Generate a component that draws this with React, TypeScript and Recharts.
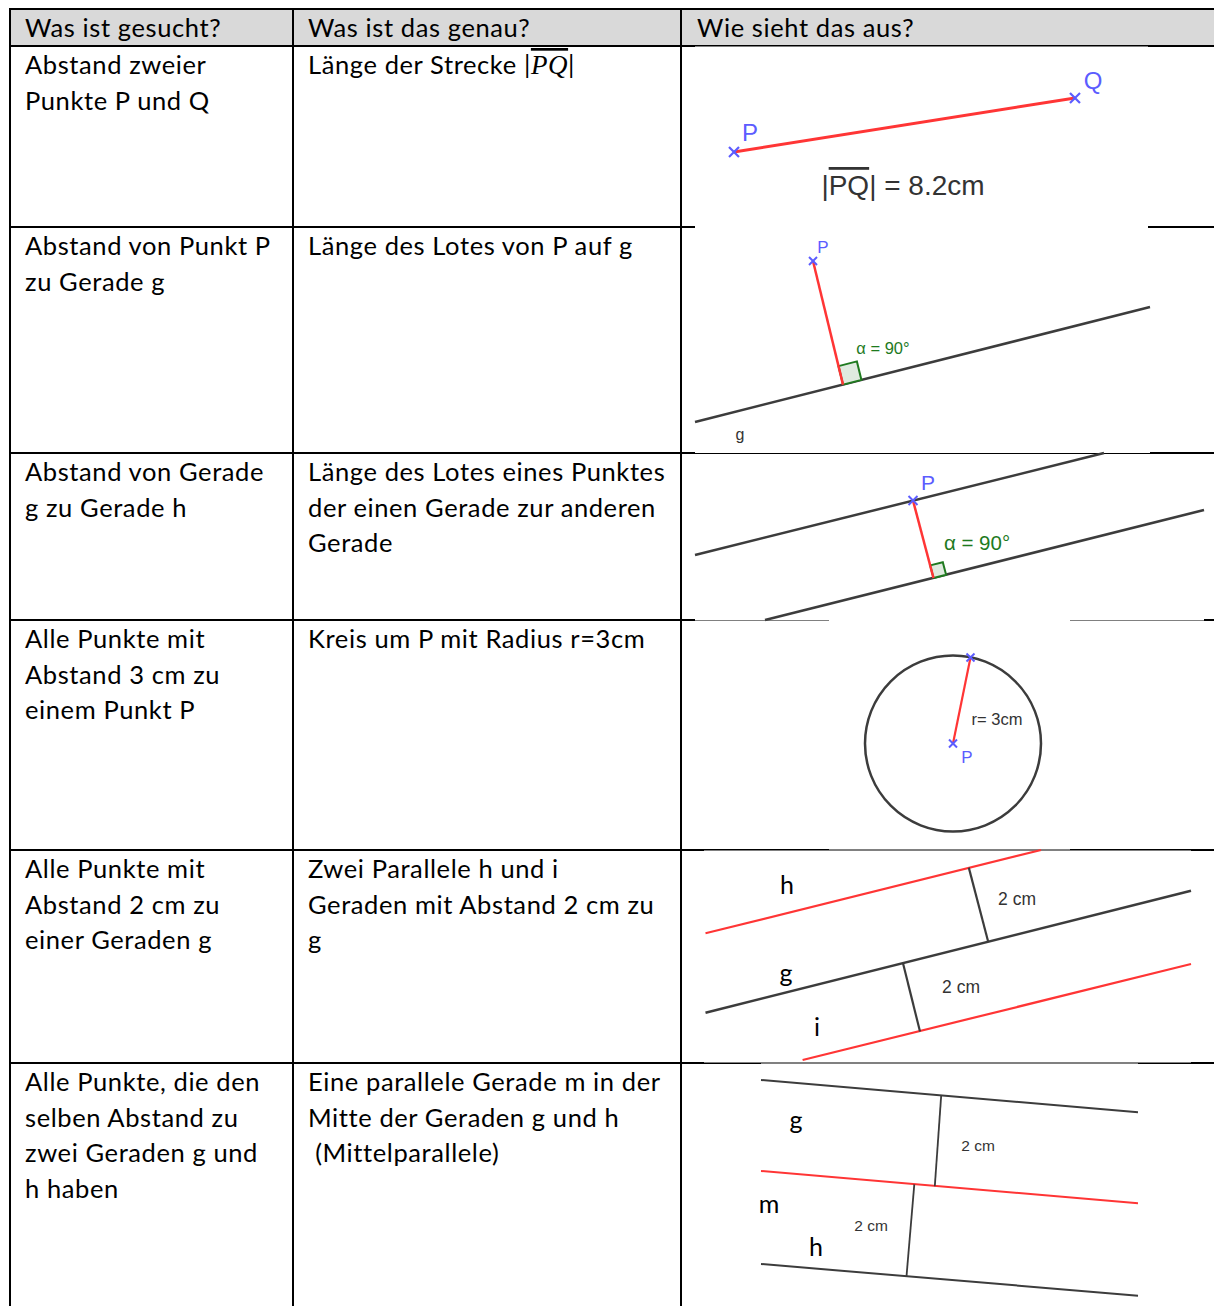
import React from 'react';
import { ComposedChart, XAxis, YAxis, Line, Scatter, ReferenceArea, ReferenceDot } from 'recharts';

const WIDTH = 1214;
const HEIGHT = 1306;

// ---------- table content ----------
const headers = ['Was ist gesucht?', 'Was ist das genau?', 'Wie sieht das aus?'];
const searchedLines = [
  ['Abstand zweier', 'Punkte P und Q'],
  ['Abstand von Punkt P', 'zu Gerade g'],
  ['Abstand von Gerade', 'g zu Gerade h'],
  ['Alle Punkte mit', 'Abstand 3 cm zu', 'einem Punkt P'],
  ['Alle Punkte mit', 'Abstand 2 cm zu', 'einer Geraden g'],
  ['Alle Punkte, die den', 'selben Abstand zu', 'zwei Geraden g und', 'h haben'],
];
const meaningLines = [
  ['Länge der Strecke |PQ|'],
  ['Länge des Lotes von P auf g'],
  ['Länge des Lotes eines Punktes', 'der einen Gerade zur anderen', 'Gerade'],
  ['Kreis um P mit Radius r=3cm'],
  ['Zwei Parallele h und i', 'Geraden mit Abstand 2 cm zu', 'g'],
  ['Eine parallele Gerade m in der', 'Mitte der Geraden g und h', ' (Mittelparallele)'],
];

// table geometry (layout)
const colEdges = [10, 293, 681];
const rowEdges = [9, 46, 227, 453, 620, 850, 1063];
const colTextX = [25, 308, 697];

// image backgrounds in the third column (layout)
const imagePatches = [
  { x1: 695, x2: 1148, y1: 46.5, y2: 228 },
  { x1: 695, x2: 1150, y1: 228, y2: 453 },
  { x1: 695, x2: 1204, y1: 454, y2: 620.5 },
  { x1: 829, x2: 1070, y1: 619, y2: 849.5 },
  { x1: 704, x2: 1191, y1: 850.5, y2: 1062.5 },
  { x1: 761, x2: 1138, y1: 1063.5, y2: 1306 },
];

// ---------- diagram 1: Abstand zweier Punkte ----------
const pqSegment = [{ x: 734, y: 152 }, { x: 1075, y: 98 }];
const pqPoints = [{ x: 734, y: 152 }, { x: 1075, y: 98 }];
const pqLabels = [{ x: 750, y: 132, text: 'P' }, { x: 1093, y: 80, text: 'Q' }];
const pqFormula = [{ x: 903, y: 185, text: '8.2cm' }];

// ---------- diagram 2: Punkt zu Gerade ----------
const g2Line = [{ x: 695, y: 422 }, { x: 1150, y: 307 }];
const lot2 = [{ x: 813, y: 261 }, { x: 843, y: 384.6 }];
const square2 = [
  { x: 843, y: 384.6 }, { x: 861.4, y: 379.9 }, { x: 856.9, y: 361.4 }, { x: 838.5, y: 366.1 }, { x: 843, y: 384.6 },
];
const point2 = [{ x: 813, y: 261 }];
const label2Blue = [{ x: 823, y: 247, text: 'P' }];
const label2Green = [{ x: 883, y: 348, text: 'α = 90°' }];
const label2Gray = [{ x: 740, y: 434, text: 'g' }];

// ---------- diagram 3: Gerade zu Gerade ----------
const upper3 = [{ x: 695, y: 555 }, { x: 1104, y: 453 }];
const lower3 = [{ x: 765, y: 620 }, { x: 1204, y: 510 }];
const lot3 = [{ x: 913, y: 500.5 }, { x: 933.5, y: 578 }];
const square3 = [
  { x: 933.5, y: 578 }, { x: 946.1, y: 574.8 }, { x: 942.8, y: 562.2 }, { x: 930.2, y: 565.4 }, { x: 933.5, y: 578 },
];
const point3 = [{ x: 913, y: 500.5 }];
const label3Blue = [{ x: 928, y: 482, text: 'P' }];
const label3Green = [{ x: 977, y: 542, text: 'α = 90°' }];

// ---------- diagram 4: Kreis ----------
const circleCenter = { x: 953, y: 743.5 };
const radius4 = [{ x: 953, y: 743.5 }, { x: 970.5, y: 657.5 }];
const points4 = [{ x: 953, y: 743.5 }, { x: 970.5, y: 657.5 }];
const label4Blue = [{ x: 967, y: 757, text: 'P' }];
const label4Gray = [{ x: 997, y: 719, text: 'r= 3cm' }];

// ---------- diagram 5: Parallelen h, g, i ----------
const h5 = [{ x: 705.5, y: 933.3 }, { x: 1041, y: 850 }];
const g5 = [{ x: 705.5, y: 1012.7 }, { x: 1191, y: 890.7 }];
const i5 = [{ x: 802.6, y: 1060 }, { x: 1191, y: 964 }];
const perp5a = [{ x: 968.8, y: 867.6 }, { x: 988.2, y: 941.7 }];
const perp5b = [{ x: 903, y: 963.2 }, { x: 920, y: 1031.5 }];
const letters5 = [
  { x: 787, y: 884, text: 'h' },
  { x: 786, y: 972, text: 'g' },
  { x: 817, y: 1026, text: 'i' },
];
const cm5 = [
  { x: 1017, y: 899, text: '2 cm' },
  { x: 961, y: 987, text: '2 cm' },
];

// ---------- diagram 6: Mittelparallele ----------
const g6 = [{ x: 761, y: 1080 }, { x: 1138, y: 1112.3 }];
const m6 = [{ x: 761, y: 1171 }, { x: 1138, y: 1203.3 }];
const h6 = [{ x: 761, y: 1264 }, { x: 1138, y: 1295.7 }];
const perp6a = [{ x: 941.2, y: 1095.4 }, { x: 934.8, y: 1186.3 }];
const perp6b = [{ x: 914.3, y: 1184.3 }, { x: 906.5, y: 1276.3 }];
const letters6 = [
  { x: 796, y: 1119, text: 'g' },
  { x: 769, y: 1203, text: 'm' },
  { x: 816, y: 1246, text: 'h' },
];
const cm6 = [
  { x: 978, y: 1145, text: '2 cm' },
  { x: 871, y: 1225, text: '2 cm' },
];

// ---------- styles ----------
const RED = '#ff3535';
const DARK = '#3c3c3c';
const BLUE = '#5c5cff';
const GREEN = '#1e7a1e';
const TABLE_FONT = 'Lato, "Open Sans", sans-serif';
const GEO_FONT = '"Liberation Sans", Arial, sans-serif';

const seg = (key: string, data: any[], stroke: string, width: number, fillStyle?: string) => (
  <Line
    key={key}
    data={data}
    dataKey="y"
    type="linear"
    stroke={stroke}
    strokeWidth={width}
    dot={false}
    activeDot={false}
    isAnimationActive={false}
    legendType="none"
    style={fillStyle ? { fill: fillStyle } : undefined}
  />
);

const textShape = (fontSize: number, fill: string, family: string = GEO_FONT) => (p: any) => (
  <text
    x={p.cx}
    y={p.cy}
    fontSize={fontSize}
    fill={fill}
    fontFamily={family}
    textAnchor="middle"
    dominantBaseline="central"
  >
    {p.payload.text}
  </text>
);

const crossShape = (size: number, width: number) => (p: any) => (
  <g stroke={BLUE} strokeWidth={width}>
    <line x1={p.cx - size} y1={p.cy - size} x2={p.cx + size} y2={p.cy + size} />
    <line x1={p.cx - size} y1={p.cy + size} x2={p.cx + size} y2={p.cy - size} />
  </g>
);

const formulaShape = (p: any) => (
  <text x={p.cx} y={p.cy} fontSize={28} fill="#333" fontFamily={GEO_FONT} textAnchor="middle" dominantBaseline="central">
    |<tspan textDecoration="overline">PQ</tspan>|{'  '}={' '}{p.payload.text}
  </text>
);

const labels = (key: string, data: any[], shape: any) => (
  <Scatter key={key} data={data} dataKey="y" shape={shape} isAnimationActive={false} legendType="none" />
);

function TableLayer() {
  const lineH = 35.6;
  return (
    <svg width={WIDTH} height={HEIGHT} style={{ position: 'absolute', left: 0, top: 0 }}>
      <rect x={10} y={9} width={WIDTH - 10} height={37} fill="#d9d9d9" />
      {rowEdges.map((y, i) => (
        <rect key={'h' + i} x={9} y={y - 1} width={WIDTH - 9} height={2} fill="#000" />
      ))}
      {colEdges.map((x, i) => (
        <rect key={'v' + i} x={x - 1} y={8} width={2} height={HEIGHT - 8} fill="#000" />
      ))}
      <g fontFamily={TABLE_FONT} fontSize={25.5} fill="#000" style={{ letterSpacing: '0.6px' }}>
        {headers.map((h, i) => (
          <text key={'hd' + i} x={colTextX[i]} y={37}>{h}</text>
        ))}
        {searchedLines.map((lines, r) =>
          lines.map((t, k) => (
            <text key={'s' + r + k} x={colTextX[0]} y={rowEdges[r + 1] + 28 + k * lineH}>{t}</text>
          ))
        )}
        {meaningLines.map((lines, r) =>
          lines.map((t, k) => {
            const y = rowEdges[r + 1] + 28 + k * lineH;
            if (t.includes('|PQ|')) {
              const [before] = t.split('|PQ|');
              return (
                <text key={'m' + r + k} x={colTextX[1]} y={y}>
                  {before}|
                  <tspan fontFamily='"Liberation Serif", "DejaVu Serif", serif' fontStyle="italic" fontSize={27} textDecoration="overline">PQ</tspan>
                  |
                </text>
              );
            }
            return (
              <text key={'m' + r + k} x={colTextX[1]} y={y} style={{ whiteSpace: 'pre' }}>{t}</text>
            );
          })
        )}
      </g>
    </svg>
  );
}

export default function App() {
  return (
    <div style={{ position: 'absolute', left: 0, top: 0, width: WIDTH, height: HEIGHT, background: '#fff', overflow: 'hidden' }}>
      <TableLayer />
      <div style={{ position: 'absolute', left: 0, top: 0 }}>
        <ComposedChart width={WIDTH} height={HEIGHT} margin={{ top: 0, right: 0, bottom: 0, left: 0 }}>
          <XAxis type="number" dataKey="x" domain={[0, WIDTH]} hide allowDataOverflow />
          <YAxis type="number" dataKey="y" domain={[0, HEIGHT]} reversed hide allowDataOverflow />
          {imagePatches.map((p, i) => (
            <ReferenceArea key={'patch' + i} x1={p.x1} x2={p.x2} y1={p.y1} y2={p.y2} fill="#ffffff" fillOpacity={1} stroke="none" ifOverflow="visible" />
          ))}

          {seg('pq', pqSegment, RED, 3)}
          {labels('pqPts', pqPoints, crossShape(5, 2.2))}
          {labels('pqLab', pqLabels, textShape(24, BLUE))}
          {labels('pqFormula', pqFormula, formulaShape)}

          {seg('g2', g2Line, DARK, 2.5)}
          {seg('sq2', square2, '#1f7a1f', 2, '#dfeadf')}
          {seg('lot2', lot2, RED, 2.5)}
          {labels('pt2', point2, crossShape(4, 2))}
          {labels('lb2b', label2Blue, textShape(17, BLUE))}
          {labels('lb2g', label2Green, textShape(16.5, GREEN))}
          {labels('lb2k', label2Gray, textShape(16, '#333'))}

          {seg('u3', upper3, DARK, 2.5)}
          {seg('l3', lower3, DARK, 2.5)}
          {seg('sq3', square3, '#1f7a1f', 2, '#dfeadf')}
          {seg('lot3', lot3, RED, 2.5)}
          {labels('pt3', point3, crossShape(4.5, 2))}
          {labels('lb3b', label3Blue, textShape(21, BLUE))}
          {labels('lb3g', label3Green, textShape(20.5, GREEN))}

          <ReferenceDot x={circleCenter.x} y={circleCenter.y} r={88} fill="none" stroke={DARK} strokeWidth={2.5} ifOverflow="visible" />
          {seg('r4', radius4, RED, 2.2)}
          {labels('pt4', points4, crossShape(4, 2))}
          {labels('lb4b', label4Blue, textShape(17, BLUE))}
          {labels('lb4k', label4Gray, textShape(16.5, '#333'))}

          {seg('h5', h5, RED, 2.2)}
          {seg('g5', g5, DARK, 2.5)}
          {seg('i5', i5, RED, 2.2)}
          {seg('p5a', perp5a, DARK, 2.2)}
          {seg('p5b', perp5b, DARK, 2.2)}
          {labels('lt5', letters5, textShape(25, '#000', TABLE_FONT))}
          {labels('cm5', cm5, textShape(17.5, '#333'))}

          {seg('g6', g6, DARK, 2)}
          {seg('m6', m6, RED, 2)}
          {seg('h6', h6, DARK, 2)}
          {seg('p6a', perp6a, DARK, 1.8)}
          {seg('p6b', perp6b, DARK, 1.8)}
          {labels('lt6', letters6, textShape(25, '#000', TABLE_FONT))}
          {labels('cm6', cm6, textShape(15.5, '#333'))}
        </ComposedChart>
      </div>
    </div>
  );
}
